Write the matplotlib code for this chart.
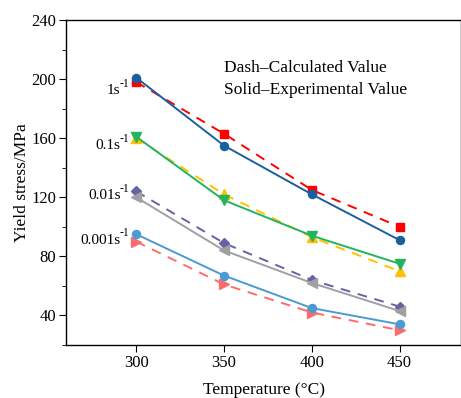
import matplotlib
matplotlib.use("Agg")
import matplotlib.pyplot as plt
from matplotlib.ticker import MultipleLocator

plt.rcParams['font.family'] = ['Liberation Serif', 'DejaVu Serif']

temps = [300, 350, 400, 450]
exp_1 = [201, 155, 122, 91]
calc_1 = [198, 163, 125, 100]
exp_01 = [161, 118, 94, 75]
calc_01 = [160, 122, 93, 70]
calc_001 = [124, 89, 64, 46]
exp_001 = [120, 84, 62, 43]
exp_0001 = [95, 67, 45, 34]
calc_0001 = [90, 61, 42, 30]

rate_labels = ["1s", "0.1s", "0.01s", "0.001s"]
rate_sup = "-1"
rate_label_y = [192, 155, 121, 91]

fig = plt.figure(figsize=(4.61, 3.98), dpi=100)
ax = fig.add_axes([66/461, 1-345/398, (461-66)/461, (345-20)/398])

series = [
    (calc_1, '#ff0000', 's', '--'),
    (exp_1, '#1a5f9e', 'o', '-'),
    (calc_01, '#ffc000', '^', '--'),
    (exp_01, '#22b460', 'v', '-'),
    (calc_001, '#6464a4', 'D', '--'),
    (exp_001, '#a0a0a0', '<', '-'),
    (calc_0001, '#ff6b6b', '>', '--'),
    (exp_0001, '#4a9ad4', 'o', '-'),
]
msizes = {'s': 5.2, 'o': 5.8, '^': 7, 'v': 7, '<': 7, '>': 7, 'D': 5}
for vals, c, m, ls in series:
    ms = msizes[m]
    if ls == '--':
        ax.plot(temps, vals, color=c, marker=m, lw=1.4, ms=ms, dashes=(5, 4))
    else:
        ax.plot(temps, vals, color=c, marker=m, lw=1.4, ms=ms, linestyle='-')

for lab, y in zip(rate_labels, rate_label_y):
    ax.annotate(rate_sup, xy=(296, y), xytext=(0, 0.5), textcoords='offset points',
                ha='right', va='bottom', fontsize=8.5)
    ax.annotate(lab, xy=(296, y), xytext=(-6.3, 0), textcoords='offset points',
                ha='right', va='center', fontsize=11)

ax.text(0.40, 0.852, "Dash\u2013Calculated Value", transform=ax.transAxes, fontsize=12.5, va='center')
ax.text(0.40, 0.785, "Solid\u2013Experimental Value", transform=ax.transAxes, fontsize=12.5, va='center')

ax.set_xlim(260, 485)
ax.set_ylim(20, 240)
ax.set_xticks(temps)
ax.yaxis.set_major_locator(MultipleLocator(40))
ax.yaxis.set_minor_locator(MultipleLocator(20))
ax.set_yticks([40, 80, 120, 160, 200, 240])
ax.tick_params(labelsize=12, direction='out', length=5, pad=2)
ax.tick_params(which='minor', length=3)
ax.set_xlabel("Temperature (\u00b0C)", fontsize=12.5, labelpad=8)
ax.set_ylabel("Yield stress/MPa", fontsize=12.5, labelpad=1)
for s in ax.spines.values():
    s.set_linewidth(1.0)

fig.savefig("out.png", dpi=100)
